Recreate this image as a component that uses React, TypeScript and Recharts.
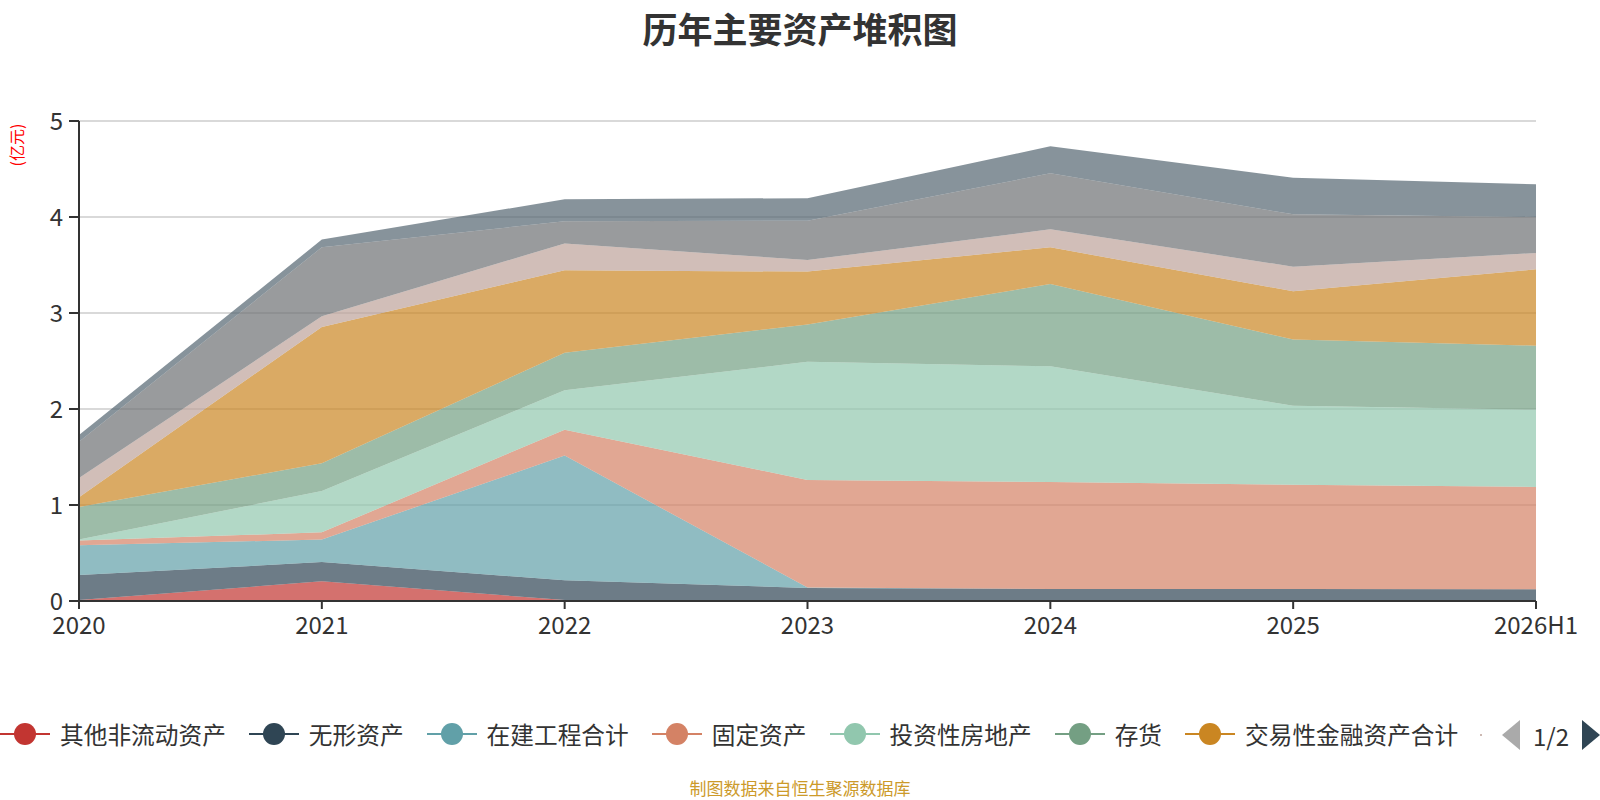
import React from "react";
import { AreaChart, Area, XAxis, YAxis, CartesianGrid } from "recharts";

// 单位：亿元
const years = ["2020", "2021", "2022", "2023", "2024", "2025", "2026H1"];
const otherNonCurrent = [0.01, 0.205, 0.01, 0, 0, 0, 0];
const intangible = [0.26, 0.2, 0.205, 0.136, 0.125, 0.125, 0.122];
const construction = [0.31, 0.235, 1.3, 0.005, 0, 0, 0];
const fixedAssets = [0.05, 0.075, 0.27, 1.12, 1.115, 1.087, 1.066];
const investProperty = [0.01, 0.43, 0.41, 1.23, 1.205, 0.823, 0.806];
const inventory = [0.34, 0.29, 0.39, 0.39, 0.857, 0.688, 0.666];
const tradingFinancial = [0.1, 1.42, 0.86, 0.55, 0.382, 0.503, 0.795];
const receivables = [0.2, 0.11, 0.28, 0.12, 0.188, 0.257, 0.17];
const cash = [0.38, 0.72, 0.23, 0.41, 0.583, 0.545, 0.375];
const longTermEquity = [0.07, 0.08, 0.23, 0.235, 0.281, 0.382, 0.34];
const yTicks = [0, 1, 2, 3, 4, 5];

const series = [
  { key: "s1", name: "其他非流动资产", color: "#c23531", values: otherNonCurrent },
  { key: "s2", name: "无形资产", color: "#2f4554", values: intangible },
  { key: "s3", name: "在建工程合计", color: "#61a0a8", values: construction },
  { key: "s4", name: "固定资产", color: "#d48265", values: fixedAssets },
  { key: "s5", name: "投资性房地产", color: "#91c7ae", values: investProperty },
  { key: "s6", name: "存货", color: "#749f83", values: inventory },
  { key: "s7", name: "交易性金融资产合计", color: "#ca8622", values: tradingFinancial },
  { key: "s8", name: "应收账款", color: "#bda29a", values: receivables },
  { key: "s9", name: "货币资金", color: "#6e7074", values: cash },
  { key: "s10", name: "长期股权投资", color: "#546570", values: longTermEquity },
];

const data = years.map((year, i) => {
  const row: Record<string, string | number> = { year };
  series.forEach((s) => (row[s.key] = s.values[i]));
  return row;
});

const font = "'Noto Sans CJK SC', 'Noto Sans', sans-serif";

function Legend() {
  return (
    <div
      style={{
        position: "absolute",
        left: 0,
        top: 722,
        height: 24,
        display: "flex",
        alignItems: "center",
        gap: 23,
        fontSize: 23.7,
        lineHeight: "24px",
        color: "#333",
        whiteSpace: "nowrap",
      }}
    >
      {series.slice(0, 7).map((s) => (
        <div key={s.key} style={{ display: "flex", alignItems: "center" }}>
          <svg width={50} height={24} style={{ marginRight: 10 }}>
            <line x1={0} y1={12} x2={50} y2={12} stroke={s.color} strokeWidth={2} />
            <circle cx={25} cy={12} r={11} fill={s.color} />
          </svg>
          <span>{s.name}</span>
        </div>
      ))}
    </div>
  );
}

export default function App() {
  return (
    <div
      style={{
        position: "absolute",
        left: 0,
        top: 0,
        width: 1600,
        height: 800,
        background: "#fff",
        fontFamily: font,
        overflow: "hidden",
      }}
    >
      <div
        style={{
          position: "absolute",
          left: 0,
          width: 1600,
          top: 2,
          textAlign: "center",
          fontSize: 35,
          fontWeight: 700,
          color: "#333",
        }}
      >
        历年主要资产堆积图
      </div>
      <div
        style={{
          position: "absolute",
          left: 16,
          top: 145,
          transform: "translate(-50%, -50%) rotate(-90deg)",
          fontSize: 16,
          color: "#f00",
          whiteSpace: "nowrap",
        }}
      >
        (亿元)
      </div>
      <AreaChart
        width={1600}
        height={800}
        data={data}
        margin={{ top: 121, right: 64, bottom: 159, left: 0 }}
      >
        <CartesianGrid horizontal vertical={false} stroke="#ccc" strokeWidth={1.5} />
        <XAxis
          dataKey="year"
          height={40}
          tickSize={8}
          tickMargin={8}
          axisLine={{ stroke: "#333", strokeWidth: 2 }}
          tickLine={{ stroke: "#333", strokeWidth: 2 }}
          tick={{ fill: "#333", fontSize: 24, fontFamily: font }}
          interval={0}
        />
        <YAxis
          width={79}
          domain={[0, 5]}
          ticks={yTicks}
          tickSize={10}
          tickMargin={6}
          axisLine={{ stroke: "#333", strokeWidth: 2 }}
          tickLine={{ stroke: "#333", strokeWidth: 2 }}
          tick={{ fill: "#333", fontSize: 24, fontFamily: font }}
        />
        {series.map((s) => (
          <Area
            key={s.key}
            type="linear"
            dataKey={s.key}
            name={s.name}
            stackId="a"
            stroke="none"
            fill={s.color}
            fillOpacity={0.7}
            isAnimationActive={false}
            activeDot={false}
          />
        ))}
      </AreaChart>
      <Legend />
      <svg style={{ position: "absolute", left: 1478, top: 720 }} width={122} height={32}>
        <circle cx={3} cy={15} r={1} fill="#bda29a" />
        <polygon points="42,0 42,30 24,15" fill="#aaa" />
        <polygon points="104,0 104,30 122,15" fill="#2f4554" />
      </svg>
      <div
        style={{
          position: "absolute",
          left: 1533,
          top: 718,
          fontSize: 24,
          color: "#333",
        }}
      >
        1/2
      </div>
      <div
        style={{
          position: "absolute",
          left: 0,
          width: 1600,
          top: 778,
          textAlign: "center",
          fontSize: 17,
          lineHeight: "20px",
          color: "#cc9a2a",
        }}
      >
        制图数据来自恒生聚源数据库
      </div>
    </div>
  );
}
